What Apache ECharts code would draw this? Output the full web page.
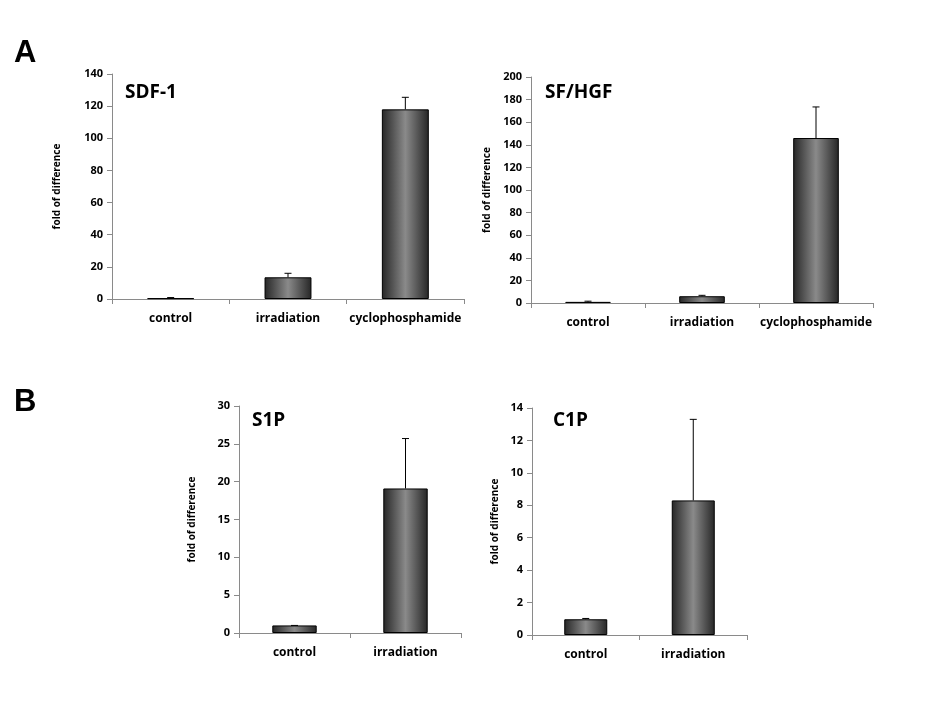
<!DOCTYPE html>
<html>
<head>
<meta charset="utf-8">
<script src="https://cdn.jsdelivr.net/npm/echarts@6/dist/echarts.min.js"></script>
<style>
  html, body { margin: 0; padding: 0; background: #ffffff; }
  #main { width: 949px; height: 718px; }
</style>
</head>
<body>
<div id="main"></div>
<script>
// data
var catsThree = ['control', 'irradiation', 'cyclophosphamide'];
var catsTwo = ['control', 'irradiation'];

var sdfValues = [0.5, 13.5, 118];
var sdfErrors = [0.4, 2.5, 7.5];

var hgfValues = [1, 6, 146];
var hgfErrors = [0.6, 0.8, 27.5];

var s1pValues = [1, 19.1];
var s1pErrors = [0, 6.6];

var c1pValues = [0.97, 8.3];
var c1pErrors = [0.05, 5.0];

var FONT = 'Open Sans';

// panel layout: grid box, axis range, name of the panel
var panels = [
  { name: 'SDF-1', cats: catsThree, vals: sdfValues, errs: sdfErrors, max: 140, step: 20,
    grid: { left: 112, top: 74, width: 352, height: 225 }, nameGap: 50, title: [125, 83] },
  { name: 'SF/HGF', cats: catsThree, vals: hgfValues, errs: hgfErrors, max: 200, step: 20,
    grid: { left: 531, top: 77, width: 342, height: 226 }, nameGap: 39, title: [545, 83] },
  { name: 'S1P', cats: catsTwo, vals: s1pValues, errs: s1pErrors, max: 30, step: 5,
    grid: { left: 239, top: 406, width: 222, height: 227 }, nameGap: 42, title: [252, 411] },
  { name: 'C1P', cats: catsTwo, vals: c1pValues, errs: c1pErrors, max: 14, step: 2,
    grid: { left: 532, top: 408, width: 215, height: 227 }, nameGap: 32, title: [553, 411] }
];

var barFill = new echarts.graphic.LinearGradient(0, 0, 1, 0, [
  { offset: 0, color: '#262626' },
  { offset: 0.5, color: '#8a8a8a' },
  { offset: 1, color: '#262626' }
]);

var grids = [], xAxes = [], yAxes = [], series = [], titles = [];

panels.forEach(function (p, i) {
  grids.push(p.grid);
  xAxes.push({
    type: 'category', gridIndex: i, data: p.cats,
    axisLine: { lineStyle: { color: '#8a8a8a', width: 1 } },
    axisTick: { show: true, length: 5, lineStyle: { color: '#8a8a8a' } },
    axisLabel: { interval: 0, color: '#000', fontFamily: FONT, fontWeight: 'bold', fontSize: 12, margin: 14 }
  });
  yAxes.push({
    type: 'value', gridIndex: i, min: 0, max: p.max, interval: p.step,
    name: 'fold of difference', nameLocation: 'middle', nameGap: p.nameGap,
    nameTextStyle: { color: '#000', fontFamily: FONT, fontWeight: 'bold', fontSize: 10 },
    axisLine: { show: true, lineStyle: { color: '#8a8a8a', width: 1 } },
    axisTick: { show: true, length: 5, lineStyle: { color: '#8a8a8a' } },
    axisLabel: { color: '#000', fontFamily: FONT, fontWeight: 'bold', fontSize: 11, margin: 9 },
    splitLine: { show: false }
  });
  series.push({
    type: 'bar', xAxisIndex: i, yAxisIndex: i, data: p.vals, barWidth: '40%',
    itemStyle: { color: barFill, borderColor: '#000', borderWidth: 1 },
    silent: true
  });
  var errData = p.vals.map(function (v, k) { return [k, v, v + p.errs[k]]; });
  series.push({
    type: 'custom', xAxisIndex: i, yAxisIndex: i, data: errData, z: 5, silent: true,
    renderItem: function (params, api) {
      var lo = api.coord([api.value(0), api.value(1)]);
      var hi = api.coord([api.value(0), api.value(2)]);
      var style = { stroke: '#000', lineWidth: 1 };
      return {
        type: 'group',
        children: [
          { type: 'line', shape: { x1: lo[0], y1: lo[1], x2: hi[0], y2: hi[1] }, style: style },
          { type: 'line', shape: { x1: hi[0] - 3.5, y1: hi[1], x2: hi[0] + 3.5, y2: hi[1] }, style: style }
        ]
      };
    }
  });
  titles.push({
    text: p.name, left: p.title[0], top: p.title[1], padding: 0,
    textStyle: { color: '#000', fontFamily: FONT, fontWeight: 'bold', fontSize: 19 }
  });
});

titles.push({ text: 'A', left: 14, top: 38, padding: 0, textStyle: { color: '#000', fontFamily: 'Liberation Sans', fontWeight: 'bold', fontSize: 31 } });
titles.push({ text: 'B', left: 14, top: 387, padding: 0, textStyle: { color: '#000', fontFamily: 'Liberation Sans', fontWeight: 'bold', fontSize: 31 } });

var chart = echarts.init(document.getElementById('main'), null, { renderer: 'canvas' });
chart.setOption({
  backgroundColor: '#ffffff',
  animation: false,
  title: titles,
  grid: grids,
  xAxis: xAxes,
  yAxis: yAxes,
  series: series
});
</script>
</body>
</html>
